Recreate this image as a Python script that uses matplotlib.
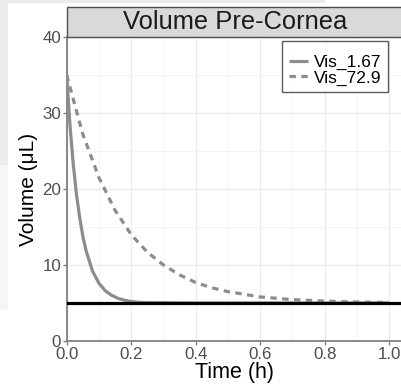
import matplotlib
matplotlib.use("Agg")
import matplotlib.pyplot as plt
from matplotlib.patches import Rectangle

plt.rcParams['font.family'] = ['Liberation Sans', 'DejaVu Sans']

# Data
t_fast = [0.0, 0.01, 0.02, 0.03, 0.04, 0.05, 0.06, 0.08, 0.10, 0.12, 0.14, 0.16, 0.18, 0.20, 0.22, 0.25, 0.4, 0.6, 0.8, 1.0]
v_fast = [35.0, 28.5, 23.4, 19.4, 16.3, 13.8, 11.9, 9.2, 7.6, 6.6, 6.0, 5.6, 5.36, 5.2, 5.1, 5.05, 5.0, 5.0, 5.0, 5.0]
t_slow = [0.0, 0.05, 0.10, 0.15, 0.20, 0.25, 0.30, 0.35, 0.40, 0.45, 0.50, 0.60, 0.70, 0.80, 0.90, 1.00]
v_slow = [35.0, 27.2, 21.5, 17.2, 14.0, 11.7, 10.0, 8.7, 7.7, 7.0, 6.5, 5.8, 5.45, 5.25, 5.13, 5.07]
baseline = 5.0
labels = ['Vis_1.67', 'Vis_72.9']
title = 'Volume Pre-Cornea'
x_ticks = [0.0, 0.2, 0.4, 0.6, 0.8, 1.0]
y_ticks = [0, 10, 20, 30, 40]

W, H = 401, 386
fig = plt.figure(figsize=(W / 100, H / 100), dpi=100)
fig.patch.set_facecolor('white')

# screenshot background artefacts
def px_rect(x0, y0, x1, y1, color):
    fig.add_artist(Rectangle((x0 / W, 1 - y1 / H), (x1 - x0) / W, (y1 - y0) / H,
                             transform=fig.transFigure, facecolor=color,
                             edgecolor='none', zorder=-10))
px_rect(0, 0, 8, 165, '#ececec')
px_rect(0, 0, 325, 3, '#ececec')
px_rect(0, 165, 8, 310, '#f6f6f6')

left, right, top, bottom = 66.7, 402, 37, 341
ax = fig.add_axes([left / W, 1 - bottom / H, (right - left) / W, (bottom - top) / H])
ax.set_facecolor('white')

ax.set_xlim(0, 1.04)
ax.set_ylim(0, 40)
ax.set_xticks(x_ticks)
ax.set_xticklabels([f'{v:.1f}' for v in x_ticks])
ax.set_yticks(y_ticks)
ax.set_xticks([0.1, 0.3, 0.5, 0.7, 0.9], minor=True)
ax.set_yticks([5, 15, 25, 35], minor=True)
ax.grid(True, which='major', color='#ebebeb', linewidth=0.9)
ax.grid(True, which='minor', color='#f3f3f3', linewidth=0.6)
ax.set_axisbelow(True)

for s in ['top', 'right']:
    ax.spines[s].set_visible(False)
for s in ['left', 'bottom']:
    ax.spines[s].set_color('#808080')
    ax.spines[s].set_linewidth(1.3)

ax.tick_params(which='major', length=3, width=1, color='#808080',
               labelsize=12.2, labelcolor='#4d4d4d', pad=1)
ax.tick_params(which='minor', length=0)

grey = '#8c8c8c'
ax.plot(t_fast, v_fast, color=grey, linewidth=2.3, label=labels[0], solid_capstyle='butt', zorder=3)
ax.plot(t_slow, v_slow, color=grey, linewidth=2.3, linestyle=(0, (2.0, 1.7)), label=labels[1], zorder=3)
ax.axhline(baseline, color='black', linewidth=2.3, zorder=4)

ax.set_xlabel('Time (h)', fontsize=15.5, labelpad=0)
ax.set_ylabel('Volume (μL)', fontsize=15, labelpad=3)

# facet strip
strip_h = 30 / (bottom - top)
ax.add_patch(Rectangle((0, 1), 1.0, strip_h, transform=ax.transAxes, facecolor='#d9d9d9',
                       edgecolor='#4d4d4d', linewidth=1.0, clip_on=False, zorder=5))
ax.text((235 - left) / (right - left), 1 + strip_h / 2, title, transform=ax.transAxes,
        ha='center', va='center', fontsize=18.4, color='#1a1a1a', zorder=6)

leg = ax.legend(loc='upper right', bbox_to_anchor=((388 - left) / (right - left), (bottom - 41) / (bottom - top)),
                fontsize=12.5, frameon=True, fancybox=False, handlelength=1.1, handletextpad=0.3,
                borderpad=0.4, labelspacing=0.0, borderaxespad=0,
                title=' ', title_fontsize=6)
leg.get_frame().set_edgecolor('#333333')
leg.get_frame().set_linewidth(1.0)
leg.set_zorder(7)

fig.savefig('out.png', dpi=100)
